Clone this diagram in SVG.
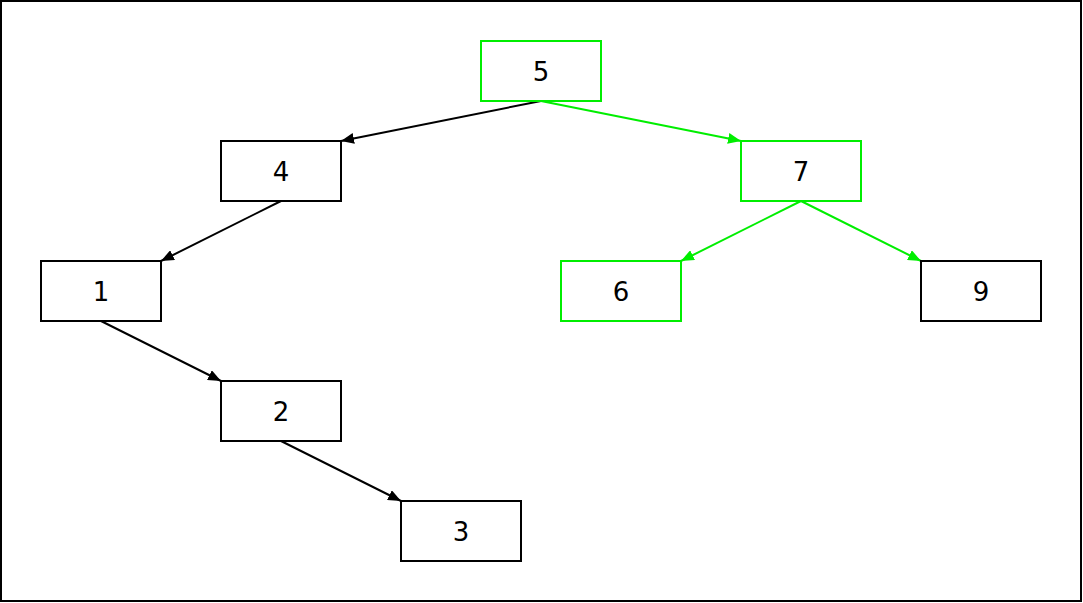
<svg xmlns="http://www.w3.org/2000/svg" width="1083" height="603" viewBox="0 0 1083 603">
  <defs>
    <style>
      .box { fill: #ffffff; stroke: #000000; stroke-width: 2; }
      .box.hl { stroke: #00ee00; }
      .lbl { font-family: "DejaVu Sans", Verdana, sans-serif; font-size: 26px; fill: #000000; text-anchor: middle; dominant-baseline: central; }
      .edge { fill: none; stroke: #000000; stroke-width: 2; }
      .edge.hl { stroke: #00ee00; }
    </style>
    <marker id="arrow" viewBox="0 0 13 11" refX="13" refY="5.5" markerWidth="13" markerHeight="11" markerUnits="userSpaceOnUse" orient="auto">
      <path d="M0,0 L13,5.5 L0,11 z" fill="#000000"/>
    </marker>
    <marker id="arrow-hl" viewBox="0 0 13 11" refX="13" refY="5.5" markerWidth="13" markerHeight="11" markerUnits="userSpaceOnUse" orient="auto">
      <path d="M0,0 L13,5.5 L0,11 z" fill="#00ee00"/>
    </marker>
  </defs>

  <rect x="0" y="0" width="1083" height="603" fill="#ffffff"/>
  <rect x="1" y="1" width="1080" height="600" fill="none" stroke="#000000" stroke-width="2"/>

  <g id="connectors">
    <line class="edge" x1="541" y1="101" x2="341" y2="141" marker-end="url(#arrow)"/>
    <line class="edge hl" x1="541" y1="101" x2="741" y2="141" marker-end="url(#arrow-hl)"/>
    <line class="edge" x1="281" y1="201" x2="161" y2="261" marker-end="url(#arrow)"/>
    <line class="edge hl" x1="801" y1="201" x2="681" y2="261" marker-end="url(#arrow-hl)"/>
    <line class="edge hl" x1="801" y1="201" x2="921" y2="261" marker-end="url(#arrow-hl)"/>
    <line class="edge" x1="101" y1="321" x2="221" y2="381" marker-end="url(#arrow)"/>
    <line class="edge" x1="281" y1="441" x2="401" y2="501" marker-end="url(#arrow)"/>
  </g>

  <g id="node-5"><rect class="box hl" x="481" y="41" width="120" height="60"/><text class="lbl" x="541" y="72">5</text></g>
  <g id="node-4"><rect class="box" x="221" y="141" width="120" height="60"/><text class="lbl" x="281" y="172">4</text></g>
  <g id="node-7"><rect class="box hl" x="741" y="141" width="120" height="60"/><text class="lbl" x="801" y="172">7</text></g>
  <g id="node-1"><rect class="box" x="41" y="261" width="120" height="60"/><text class="lbl" x="101" y="292">1</text></g>
  <g id="node-6"><rect class="box hl" x="561" y="261" width="120" height="60"/><text class="lbl" x="621" y="292">6</text></g>
  <g id="node-9"><rect class="box" x="921" y="261" width="120" height="60"/><text class="lbl" x="981" y="292">9</text></g>
  <g id="node-2"><rect class="box" x="221" y="381" width="120" height="60"/><text class="lbl" x="281" y="412">2</text></g>
  <g id="node-3"><rect class="box" x="401" y="501" width="120" height="60"/><text class="lbl" x="461" y="532">3</text></g>
</svg>
